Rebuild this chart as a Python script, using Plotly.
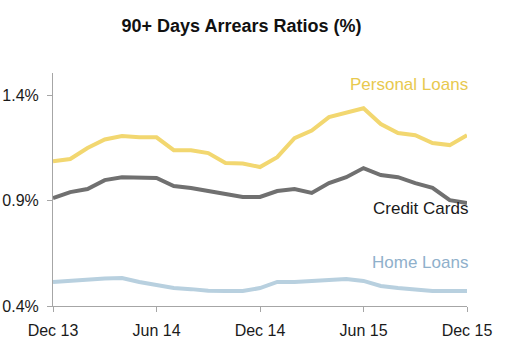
import plotly.graph_objects as go

months = ["Dec 13","Jan 14","Feb 14","Mar 14","Apr 14","May 14","Jun 14","Jul 14","Aug 14","Sep 14","Oct 14","Nov 14",
          "Dec 14","Jan 15","Feb 15","Mar 15","Apr 15","May 15","Jun 15","Jul 15","Aug 15","Sep 15","Oct 15","Nov 15","Dec 15"]
personal_loans = [1.087,1.097,1.149,1.19,1.206,1.20,1.20,1.139,1.139,1.125,1.078,1.076,1.059,1.106,1.196,1.232,1.296,1.319,1.338,1.263,1.22,1.21,1.173,1.163,1.21]
credit_cards = [0.912,0.94,0.955,0.997,1.011,1.007,1.007,0.969,0.96,0.945,0.931,0.917,0.917,0.945,0.955,0.936,0.983,1.011,1.054,1.021,1.011,0.983,0.96,0.902,0.888]
home_loans = [0.514,0.519,0.528,0.531,0.533,0.514,0.5,0.485,0.48,0.472,0.471,0.471,0.485,0.514,0.514,0.519,0.523,0.528,0.519,0.495,0.485,0.478,0.471,0.471,0.471]
tick_months = ["Dec 13","Jun 14","Dec 14","Jun 15","Dec 15"]
y_ticks = [0.4, 0.9, 1.4]
y_tick_text = ["0.4%", "0.9%", "1.4%"]

x = list(range(len(months)))
tickvals = [months.index(m) for m in tick_months]

W, H = 513, 355

fig = go.Figure()
fig.add_trace(go.Scatter(x=x, y=personal_loans, mode="lines", line=dict(color="#F2D770", width=4)))
fig.add_trace(go.Scatter(x=x, y=credit_cards, mode="lines", line=dict(color="#707070", width=4)))
fig.add_trace(go.Scatter(x=x, y=home_loans, mode="lines", line=dict(color="#B8D0DF", width=4)))

font = "Liberation Sans, Arial, sans-serif"
ann = [("Personal Loans", 1.452, "#E8C94E"), ("Credit Cards", 0.862, "#1A1A1A"), ("Home Loans", 0.604, "#8FB0CB")]
for t, yv, c in ann:
    fig.add_annotation(text=t, x=1.008, xref="paper", y=yv, yref="y", xanchor="right", yanchor="middle",
                       showarrow=False, font=dict(family=font, size=17, color=c))

fig.update_layout(
    width=W, height=H,
    margin=dict(l=53, r=46, t=73, b=49),
    paper_bgcolor="white", plot_bgcolor="white",
    showlegend=False,
    title=dict(text="<b>90+ Days Arrears Ratios (%)</b>", x=241.5 / W, xref="container", xanchor="center",
               y=1 - 26 / H, yref="container", yanchor="middle",
               font=dict(family=font, size=18, color="#111111")),
    font=dict(family=font, size=16, color="#1A1A1A"),
)
fig.update_xaxes(range=[0, 24], tickvals=tickvals, ticktext=tick_months, showgrid=False, zeroline=False,
                 showline=True, linecolor="#A6A6A6", linewidth=1, ticks="outside", ticklen=5, tickcolor="#A6A6A6",
                 ticklabelstandoff=5, automargin=False)
fig.update_yaxes(range=[0.4, 1.505], tickvals=y_ticks, ticktext=y_tick_text, showgrid=False, zeroline=False,
                 showline=True, linecolor="#A6A6A6", linewidth=1, ticks="outside", ticklen=5, tickcolor="#A6A6A6",
                 ticklabelstandoff=5, automargin=False)

fig.write_html("out.html", config={"displayModeBar": False},
               post_script="document.body.style.margin='0';document.body.style.overflow='hidden';")
